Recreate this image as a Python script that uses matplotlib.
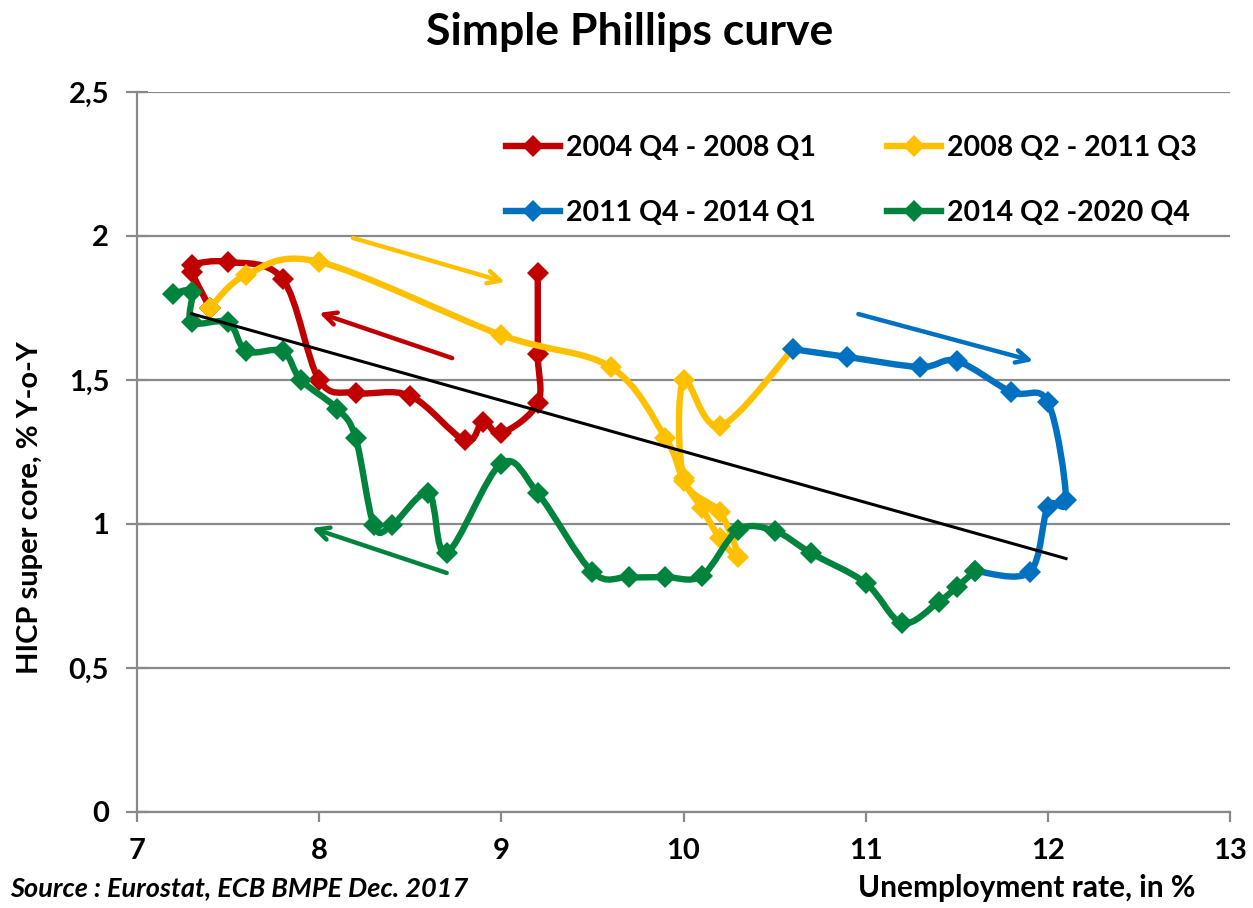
import numpy as np
import matplotlib
matplotlib.use("Agg")
import matplotlib.pyplot as plt
from matplotlib.path import Path
from matplotlib.patches import PathPatch
from matplotlib.lines import Line2D

plt.rcParams["font.family"] = ["Lato", "DejaVu Sans"]
plt.rcParams["font.weight"] = "bold"

# unemployment rate (%) and HICP super core (% y-o-y), quarterly
red_x = [9.2, 9.2, 9.2, 9.0, 8.9, 8.8, 8.5, 8.2, 8.0, 7.8, 7.5, 7.3, 7.3, 7.4]
red_y = [1.87, 1.59, 1.42, 1.315, 1.355, 1.29, 1.445, 1.455, 1.50, 1.85, 1.91, 1.90, 1.875, 1.75]

yel_x = [7.4, 7.6, 8.0, 9.0, 9.6, 9.9, 10.0, 10.1, 10.2, 10.3, 10.2, 10.0, 10.0, 10.2, 10.6]
yel_y = [1.75, 1.865, 1.91, 1.656, 1.545, 1.30, 1.15, 1.055, 0.95, 0.885, 1.04, 1.16, 1.50, 1.34, 1.607]

blu_x = [10.6, 10.9, 11.3, 11.5, 11.8, 12.0, 12.1, 12.0, 11.9, 11.6]
blu_y = [1.607, 1.58, 1.545, 1.566, 1.458, 1.424, 1.083, 1.06, 0.833, 0.837]

grn_x = [11.6, 11.5, 11.4, 11.2, 11.0, 10.7, 10.5, 10.3, 10.1, 9.9, 9.7, 9.5, 9.2, 9.0,
         8.7, 8.6, 8.4, 8.3, 8.2, 8.1, 7.9, 7.8, 7.6, 7.5, 7.3, 7.3, 7.2]
grn_y = [0.837, 0.781, 0.729, 0.656, 0.795, 0.899, 0.976, 0.979, 0.82, 0.816, 0.816, 0.833, 1.107, 1.21,
         0.90, 1.107, 0.996, 0.996, 1.30, 1.40, 1.50, 1.60, 1.60, 1.70, 1.70, 1.806, 1.80]

labels = ["2004 Q4 - 2008 Q1", "2008 Q2 - 2011 Q3", "2011 Q4 - 2014 Q1", "2014 Q2 -2020 Q4"]
colors = ["#C00000", "#FFC000", "#0070C0", "#00843D"]

# linear fit drawn across the sample
trend_x = [7.3, 12.1]
trend_y = [1.73, 0.88]

# direction arrows: (tail, head)
arrows = [
    ((8.73, 1.576), (8.0, 1.733), "#C00000"),
    ((8.186, 1.993), (9.02, 1.84), "#FFC000"),
    ((10.96, 1.729), (11.92, 1.566), "#0070C0"),
    ((8.70, 0.83), (7.96, 0.986), "#00843D"),
]

yticks = [0, 0.5, 1, 1.5, 2, 2.5]
ytick_labels = ["0", "0,5", "1", "1,5", "2", "2,5"]
xticks = [7, 8, 9, 10, 11, 12, 13]

GRID = "#898989"


def smooth_path(x, y):
    # Catmull-Rom through the points, written as cubic Bezier segments
    pts = np.column_stack([x, y]).astype(float)
    n = len(pts)
    verts = [pts[0]]
    codes = [Path.MOVETO]
    for i in range(n - 1):
        p0 = pts[max(i - 1, 0)]
        p1 = pts[i]
        p2 = pts[i + 1]
        p3 = pts[min(i + 2, n - 1)]
        verts += [p1 + (p2 - p0) / 6, p2 - (p3 - p1) / 6, p2]
        codes += [Path.CURVE4] * 3
    return Path(verts, codes)


fig = plt.figure(figsize=(12.53, 9.08), dpi=100)
ax = fig.add_axes([137 / 1253, 1 - 812 / 908, (1230 - 137) / 1253, (812 - 92) / 908])

series = [(red_x, red_y), (yel_x, yel_y), (blu_x, blu_y), (grn_x, grn_y)]
handles = []
for k, ((xs, ys), c, lab) in enumerate(zip(series, colors, labels)):
    z = 3 + k
    ax.add_patch(PathPatch(smooth_path(xs, ys), facecolor="none", edgecolor=c,
                           lw=4.6, capstyle="round", joinstyle="round", zorder=z))
    ax.plot(xs, ys, ls="none", marker="D", ms=11, color=c, mew=0, zorder=z)
    handles.append(Line2D([], [], color=c, lw=4.6, marker="D", ms=11, mew=0, label=lab))

ax.plot(trend_x, trend_y, color="black", lw=2.2, zorder=10)

for tail, head, c in arrows:
    ax.annotate("", xy=head, xytext=tail,
                arrowprops=dict(arrowstyle="->,head_length=0.9,head_width=0.45",
                                color=c, lw=3.2, shrinkA=0, shrinkB=0))

ax.set_xlim(7, 13)
ax.set_ylim(0, 2.5)
ax.set_xticks(xticks)
ax.set_xticklabels([str(v) for v in xticks])
ax.set_yticks(yticks)
ax.set_yticklabels(ytick_labels)
ax.yaxis.grid(True, color=GRID, lw=1.6)
ax.set_axisbelow(True)
for s in ("top", "right"):
    ax.spines[s].set_visible(False)
for s in ("left", "bottom"):
    ax.spines[s].set_color(GRID)
    ax.spines[s].set_linewidth(1.6)
ax.tick_params(axis="y", direction="inout", length=16, width=1.6, color=GRID,
               labelsize=21, pad=12)
ax.tick_params(axis="x", direction="out", length=7, width=1.6, color=GRID,
               labelsize=21, pad=12)

# legend: two columns, red/blue on the left, yellow/green on the right
order = [0, 2, 1, 3]
fig.legend([handles[i] for i in order], [labels[i] for i in order], ncol=2,
           loc="upper left", bbox_to_anchor=(495 / 1253, 1 - 124 / 908),
           frameon=False, fontsize=20.5, handlelength=1.9, handletextpad=0.2,
           columnspacing=2.5, labelspacing=1.35, borderaxespad=0)

fig.text(630 / 1253, 1 - 32 / 908, "Simple Phillips curve", ha="center", va="center",
         fontsize=32, fontweight="bold")
fig.text(30 / 1253, 1 - 508 / 908, "HICP super core, % Y-o-Y", rotation=90,
         ha="center", va="center", fontsize=21, fontweight="bold")
fig.text(1195 / 1253, 1 - 888 / 908, "Unemployment rate, in %", ha="right", va="center",
         fontsize=21.5, fontweight="bold")
fig.text(10 / 1253, 1 - 888 / 908, "Source : Eurostat, ECB BMPE Dec. 2017", ha="left",
         va="center", fontsize=19.5, fontweight="bold", style="italic")

fig.savefig("out.png", dpi=100, facecolor="white")
